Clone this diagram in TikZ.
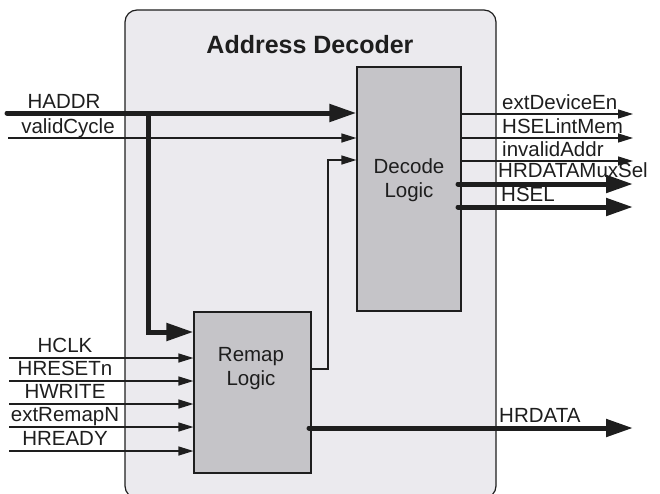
\documentclass[tikz,border=0pt]{standalone}
\usepackage{fontspec}
\setmainfont{Liberation Sans}
\usetikzlibrary{arrows.meta,calc}
\definecolor{panelfill}{HTML}{EBEAEE}
\definecolor{blockfill}{HTML}{C5C4C8}
\definecolor{ink}{HTML}{1E1E1E}
\begin{document}
\begin{tikzpicture}[x=1pt,y=-1pt,
  sig/.style={line width=1.3pt, draw=ink, -{Triangle[length=15pt,width=9pt]}},
  bus/.style={line width=5pt, draw=ink, line cap=round, -{Triangle[length=27pt,width=17pt]}},
  lbl/.style={font=\fontsize{20.5}{24}\selectfont, text=ink, inner sep=0pt, anchor=base},
  rlbl/.style={lbl, anchor=base west},
  block/.style={draw=ink, line width=1.2pt, fill=blockfill, inner sep=0pt},
  panel/.style={draw=ink, line width=1.2pt, fill=panelfill, rounded corners=12pt, inner sep=0pt}
]
\useasboundingbox (0,0) rectangle (660,493);

% enclosing module
\node[panel, minimum width=371pt, minimum height=488pt] (addrdec) at (310.5,254) {};
\node[lbl, font=\fontsize{25}{30}\selectfont\bfseries] (title) at (310,53) {Address Decoder};

% logic blocks
\node[block, minimum width=104pt, minimum height=244pt] (decode) at (409,189) {};
\node[block, minimum width=117pt, minimum height=161pt] (remap) at (252.5,392.5) {};
\node[lbl] (decT1) at (409,173) {Decode};
\node[lbl] (decT2) at (409,197) {Logic};
\node[lbl] (remT1) at (251,361) {Remap};
\node[lbl] (remT2) at (251,385) {Logic};

% left-hand inputs
\coordinate (haddrIn) at (7,113);
\coordinate (validIn) at (8,138);
\coordinate (tap) at (148,113);
\coordinate (remapBus) at (0,332);
\draw[bus] (haddrIn) -- (decode.west |- haddrIn);
\draw[bus, line cap=butt] (tap) |- (remap.west |- remapBus);
\draw[sig] (validIn) -- (decode.west |- validIn);
\node[lbl] (haddrL) at (64,108) {HADDR};
\node[lbl] (validL) at (68,133) {validCycle};

% remap output feeding the decoder
\coordinate (remOut) at (0,369);
\coordinate (jog) at (328,160);
\draw[sig] (remap.east |- remOut) -| (jog) -- (decode.west |- jog);

% remap control inputs
\foreach \y/\t [count=\i] in {358/HCLK,381/HRESETn,404/HWRITE,427/extRemapN,451/HREADY}{
  \coordinate (cin\i) at (9,\y);
  \draw[sig] (cin\i) -- (remap.west |- cin\i);
  \node[lbl] (cinL\i) at (65,\y-6) {\t};
}

% decoder outputs
\coordinate (outEnd) at (633,0);
\foreach \y/\t [count=\i] in {114/extDeviceEn,138/HSELintMem,161/invalidAddr}{
  \coordinate (dout\i) at (461,\y);
  \draw[sig] (dout\i) -- (outEnd |- dout\i);
  \node[rlbl] (doutL\i) at (502,\y-5) {\t};
}
\coordinate (muxsel) at (458,184);
\coordinate (hsel) at (458,207);
\draw[bus] (muxsel) -- (outEnd |- muxsel);
\draw[bus] (hsel) -- (outEnd |- hsel);
\node[rlbl] (muxselL) at (498,177) {HRDATAMuxSel};
\node[rlbl] (hselL) at (501,201) {HSEL};

% read data bus
\coordinate (rdata) at (309,428);
\draw[bus] (rdata) -- (outEnd |- rdata);
\node[rlbl] (rdataL) at (499,422) {HRDATA};
\end{tikzpicture}
\end{document}
